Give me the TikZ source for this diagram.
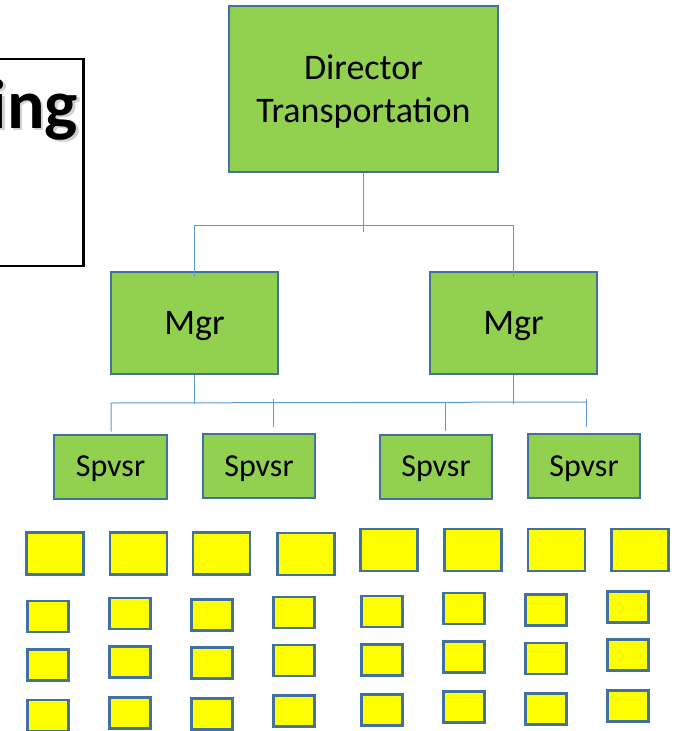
\documentclass[tikz,border=0pt]{standalone}
\usepackage{fontspec}
\setmainfont{Carlito}
\usetikzlibrary{calc}
\definecolor{gfill}{HTML}{92D050}
\definecolor{bord}{HTML}{41719C}
\definecolor{conncol}{HTML}{5B9BD5}
\definecolor{yfill}{HTML}{FFFF00}
\begin{document}
\begin{tikzpicture}[x=1pt,y=-1pt,
  gbox/.style={draw=bord,fill=gfill,line width=2pt,rectangle,inner sep=0pt,align=center,text depth=0pt},
  ybox/.style={draw=bord,fill=yfill,line width=2.5pt,rectangle,inner sep=0pt},
  ybig/.style={ybox,minimum width=57pt,minimum height=42pt},
  ysmall/.style={ybox,minimum width=41pt,minimum height=31pt},
  conn/.style={draw=conncol,line width=1pt}]
\useasboundingbox (0,0) rectangle (682,731);
% partial title box
\node[inner sep=0pt,anchor=base east,text=gray!60,opacity=0.6,font=\fontsize{70}{80}\selectfont\bfseries] (ingshadow) at (80.5,130.5) {ing};
\node[inner sep=0pt,anchor=base east,font=\fontsize{70}{80}\selectfont\bfseries] (ing) at (78,128) {ing};
\draw[black,line width=2.5pt] (-10,59) -- (83.5,59) -- (83.5,266) -- (-10,266);
% green boxes
\node[gbox,minimum width=269pt,minimum height=166pt,font=\fontsize{36}{43}\selectfont] (dir) at (363.5,89)
  {Director\\Transportation};
\node[gbox,minimum width=167pt,minimum height=102pt,font=\fontsize{36}{40}\selectfont] (mgrL) at (194.5,323) {Mgr};
\node[gbox,minimum width=167pt,minimum height=102pt,font=\fontsize{36}{40}\selectfont] (mgrR) at (513.5,323) {Mgr};
\node[gbox,minimum width=113pt,minimum height=64pt,font=\fontsize{32}{36}\selectfont] (s1) at (110.5,466.5) {Spvsr};
\node[gbox,minimum width=112pt,minimum height=64pt,font=\fontsize{32}{36}\selectfont] (s2) at (259,466) {Spvsr};
\node[gbox,minimum width=112pt,minimum height=64pt,font=\fontsize{32}{36}\selectfont] (s3) at (436,466.5) {Spvsr};
\node[gbox,minimum width=112pt,minimum height=64pt,font=\fontsize{32}{36}\selectfont] (s4) at (584,466) {Spvsr};
% connectors
\draw[conn] (dir.south) -- ++(0,59);
\draw[conn] ([yshift=-6pt]mgrL.north) -- ++(0,-52) -| ([yshift=-6pt]mgrR.north);
\draw[conn] (mgrL.south) -- ++(0,29);
\draw[conn] (mgrR.south) -- ++(0,29);
\draw[conn] ([xshift=0.5pt,yshift=2pt]s1.north) -- ++(0,-28.5) -- ++(476,-1);
\draw[conn] ([xshift=14pt,yshift=6pt]s2.north) -- ++(0,-28);
\draw[conn] ([xshift=9pt,yshift=3pt]s3.north) -- ++(0,-28);
\draw[conn] ([xshift=2pt,yshift=6pt]s4.north) -- ++(0,-28);
% yellow boxes
\foreach \cx/\cy [count=\i] in {55/553.5,138.5/553.5,221.5/553.5,306/554,389/550,473/550,556.5/550,640/550}
  \node[ybig] (yA\i) at (\cx,\cy) {};
\foreach \cx/\cy [count=\i] in {48/616.5,130/613.5,212/615,294/612.5,382/611.5,464/608.5,546/610,628/607}
  \node[ysmall] (yB\i) at (\cx,\cy) {};
\foreach \cx/\cy [count=\i] in {48/665,130/662,212/663,294/660.5,382/660,464/657,546/658.5,628/655}
  \node[ysmall] (yC\i) at (\cx,\cy) {};
\foreach \cx/\cy [count=\i] in {48/715.5,130/713,212/714,294/711,382/710,464/707,546/709,628/706}
  \node[ysmall] (yD\i) at (\cx,\cy) {};
\end{tikzpicture}
\end{document}
